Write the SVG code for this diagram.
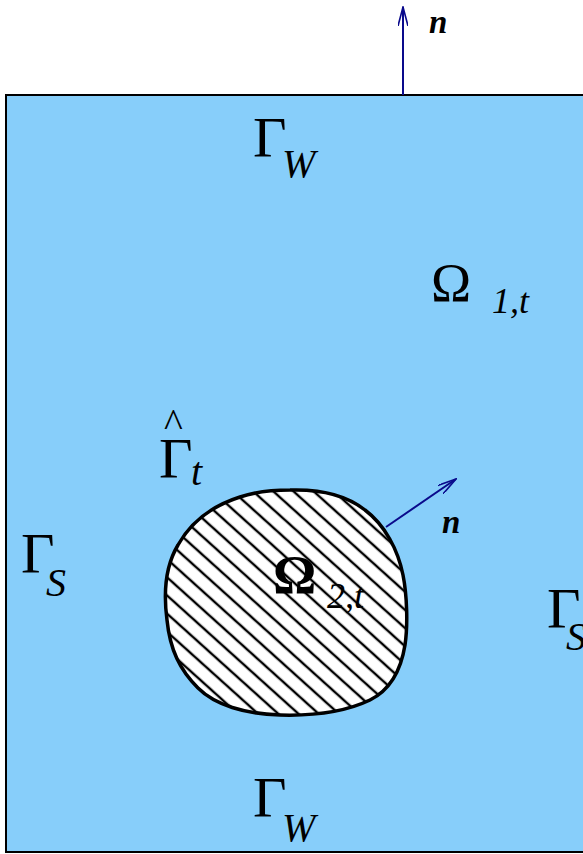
<svg xmlns="http://www.w3.org/2000/svg" width="583" height="854" viewBox="0 0 583 854">
<style>
.g{font-family:"Liberation Serif","Times New Roman",serif;fill:#000}
.big{font-size:58px}
.om{font-size:54px}
.sub{font-size:40px;font-style:italic}
.sub2{font-size:36px;font-style:italic}
.n{font-size:33px;font-style:italic;font-weight:bold}
.arr{stroke:#0a0a8c;stroke-width:2;fill:none}
</style>
<defs>
<pattern id="hatch" patternUnits="userSpaceOnUse" width="40" height="13.5" patternTransform="rotate(42)">
<rect width="40" height="13.5" fill="#fff"/>
<line x1="0" y1="6.75" x2="40" y2="6.75" stroke="#000" stroke-width="2.3"/>
</pattern>
<marker id="ah" viewBox="0 0 20 10" refX="19" refY="5" markerWidth="20" markerHeight="10" markerUnits="userSpaceOnUse" orient="auto">
<path d="M0,0 L19,5 L0,10" fill="none" stroke="#0a0a8c" stroke-width="1.6"/>
</marker>
</defs>
<g id="domain">
<rect x="6" y="95" width="600" height="757" fill="#87CEFA" stroke="#000" stroke-width="2"/>
</g>
<g id="inclusion">
<path d="M 290,490 C 320,489 345,494 365,510 C 385,525 398,550 403,575 C 407,595 408,625 405,645 C 401,670 390,690 370,700 C 345,712 315,716 280,715 C 245,714 215,705 198,688 C 180,670 170,650 167,620 C 163,590 166,565 178,545 C 192,520 215,505 240,497 C 255,492 270,490 290,490 Z" fill="url(#hatch)" stroke="#000" stroke-width="3.5"/>
</g>
<g id="connectors">
<line class="arr" x1="403" y1="95" x2="403" y2="7" marker-end="url(#ah)"/>
<line class="arr" x1="386" y1="527" x2="456" y2="479" marker-end="url(#ah)"/>
</g>
<g id="label-gamma-w-top">
<text class="g big" x="253" y="157">Γ</text>
<text class="g sub" x="282" y="177">W</text>
</g>
<g id="label-gamma-w-bottom">
<text class="g big" x="253" y="817">Γ</text>
<text class="g sub" x="282" y="841">W</text>
</g>
<g id="label-gamma-s-left">
<text class="g big" x="21" y="573">Γ</text>
<text class="g sub" x="46" y="596">S</text>
</g>
<g id="label-gamma-s-right">
<text class="g big" x="547" y="628">Γ</text>
<text class="g sub" x="566" y="650">S</text>
</g>
<g id="label-omega-1">
<text class="g om" x="431" y="301">Ω</text>
<text class="g sub2" x="492" y="313">1,t</text>
</g>
<g id="label-omega-2">
<text class="g om" x="273" y="593" font-weight="bold">Ω</text>
<text class="g sub2" x="327" y="608">2,t</text>
</g>
<g id="label-gamma-hat">
<text class="g" x="164" y="437" font-size="40">^</text>
<text class="g big" x="159" y="478">Γ</text>
<text class="g sub" x="191" y="485">t</text>
</g>
<g id="label-n-top">
<text class="g n" x="429" y="33">n</text>
</g>
<g id="label-n-right">
<text class="g n" x="442" y="533">n</text>
</g>
</svg>
